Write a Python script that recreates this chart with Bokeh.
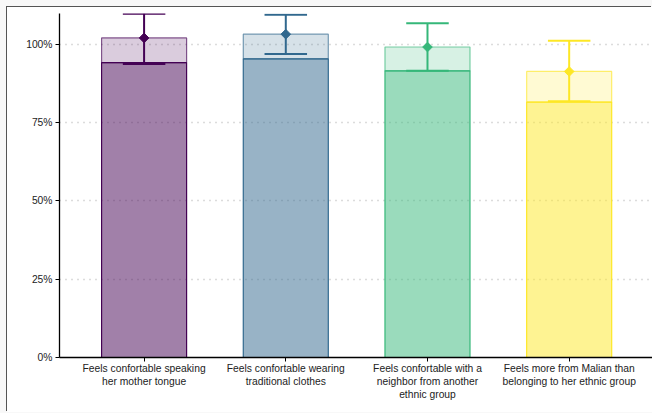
from bokeh.plotting import figure
from bokeh.models import Range1d, FixedTicker, NumeralTickFormatter, ColumnDataSource
from bokeh.embed import file_html
from bokeh.resources import INLINE

# Survey items (x-axis categories)
categories = [
    "Feels confortable speaking\nher mother tongue",
    "Feels confortable wearing\ntraditional clothes",
    "Feels confortable with a\nneighbor from another\nethnic group",
    "Feels more from Malian than\nbelonging to her ethnic group",
]
# Lower (solid) segment of each bar
base_share = [0.941, 0.953, 0.915, 0.815]
# Point estimate (top of the light segment, marker)
estimate = [1.020, 1.032, 0.991, 0.913]
# Confidence interval bounds
ci_low = [0.937, 0.969, 0.915, 0.818]
ci_high = [1.097, 1.094, 1.067, 1.011]
colors = ["#440154", "#31688e", "#35b779", "#fde725"]
y_ticks = [0, 0.25, 0.5, 0.75, 1.0]

xs = list(range(len(categories)))
src = ColumnDataSource(dict(
    x=xs, base=base_share, est=estimate, lo=ci_low, hi=ci_high, color=colors,
    cap_l=[x - 0.15 for x in xs], cap_r=[x + 0.15 for x in xs],
))

FONT = "Liberation Sans"

# the frame line on top/left is a shadow so it does not change the element size
p = figure(
    width=645, height=405, output_backend="svg", toolbar_location=None,
    x_range=Range1d(-0.597, 3.588), y_range=Range1d(0, 1.098),
    margin=(7, 0, 0, 7),
    styles={"box-shadow": "-1px -1px 0 0 #555555, 0 0 0 8px #f8f8f8"},
)
p.min_border = 0
p.min_border_left = 52
p.min_border_top = 6
p.min_border_right = 0
p.min_border_bottom = 55
p.outline_line_color = None
p.background_fill_color = "white"
p.border_fill_color = "white"

# bars: solid lower part and translucent upper part
p.vbar(x="x", width=0.6, bottom=0, top="base", source=src,
       fill_color="color", fill_alpha=0.5, line_color="color", line_width=1.2)
p.vbar(x="x", width=0.6, bottom="base", top="est", source=src,
       fill_color="color", fill_alpha=0.2, line_color="color", line_alpha=0.65, line_width=1.2)

# confidence intervals
p.segment(x0="x", y0="lo", x1="x", y1="hi", source=src, line_color="color", line_width=2)
p.segment(x0="cap_l", y0="lo", x1="cap_r", y1="lo", source=src, line_color="color", line_width=2)
p.segment(x0="cap_l", y0="hi", x1="cap_r", y1="hi", source=src, line_color="color", line_width=2)
p.scatter(x="x", y="est", source=src, marker="square", angle=0.785398, size=6.8,
          fill_color="color", line_color="color", line_width=1)

# axes
p.xaxis.ticker = FixedTicker(ticks=xs)
p.xaxis.major_label_overrides = {i: c for i, c in enumerate(categories)}
p.yaxis.ticker = FixedTicker(ticks=y_ticks)
p.yaxis.formatter = NumeralTickFormatter(format="0%")
for ax in (p.xaxis, p.yaxis):
    ax.axis_line_color = "black"
    ax.axis_line_width = 1.3
    ax.major_tick_line_color = "black"
    ax.major_tick_line_width = 1
    ax.major_tick_out = 4
    ax.major_tick_in = 0
    ax.minor_tick_line_color = None
    ax.major_label_text_font = FONT
    ax.major_label_text_font_size = "10.3px"
    ax.major_label_text_color = "#222222"
p.xaxis.major_label_standoff = 1
p.yaxis.major_label_standoff = 3

p.xgrid.grid_line_color = None
p.ygrid.ticker = FixedTicker(ticks=[0.25, 0.5, 0.75, 1.0])
p.ygrid.grid_line_color = "#b8b8b8"
p.ygrid.grid_line_width = 1.3
p.ygrid.grid_line_dash = "1 5"

open("out.html", "w").write(file_html(p, INLINE))
